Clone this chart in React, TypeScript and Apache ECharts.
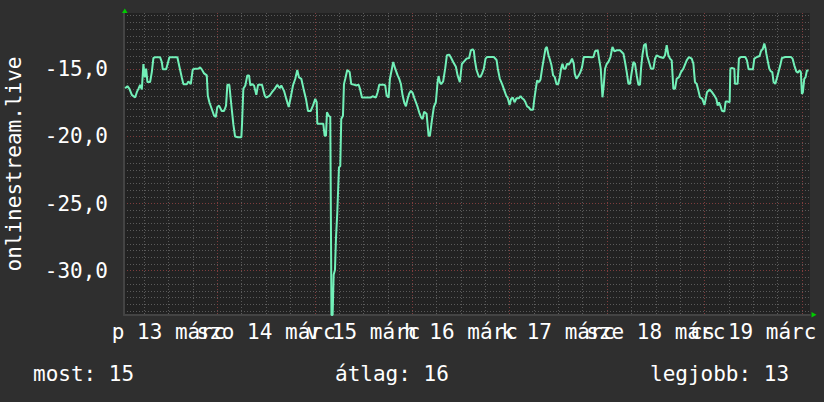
import React, { useEffect, useRef } from "react";
import * as echarts from "echarts";

// hours since 13 márc 00:00, value
const readings: [number, number][] = [
  [1.28,-16.4],[1.85,-16.25],[2.34,-16.45],[2.93,-16.9],[3.74,-17.1],[4.16,-16.7],[4.55,-16.45],[4.97,-16.15],[5.39,-16.5],[5.78,-14.6],[6.13,-15.6],[6.45,-14.95],[6.77,-15.95],[7.43,-15.95],[7.85,-15.2],[8.25,-14.15],[8.66,-14.1],[9.90,-14.1],[10.31,-14.45],[10.56,-15.0],[11.37,-15.0],[11.69,-14.65],[12.18,-14.1],[14.15,-14.1],[14.65,-14.8],[15.24,-15.6],[15.63,-16.1],[16.47,-16.1],[16.86,-15.9],[17.45,-16.1],[17.94,-15.0],[18.51,-14.95],[19.32,-14.95],[19.74,-14.85],[20.16,-15.0],[20.73,-15.3],[21.39,-15.45],[21.64,-16.95],[22.03,-17.45],[22.62,-17.95],[23.19,-18.45],[23.61,-18.55],[24.00,-17.8],[24.42,-17.7],[25.08,-18.1],[25.65,-18.1],[26.14,-17.7],[26.46,-16.15],[26.95,-16.15],[27.37,-17.45],[27.94,-19.1],[28.36,-20.0],
  [29.09,-20.05],[29.91,-20.05],[30.08,-19.05],[30.40,-16.45],[30.89,-16.2],[31.38,-15.45],[31.80,-15.45],[32.12,-16.2],[32.54,-16.1],[33.03,-16.2],[33.60,-16.9],[34.02,-16.15],[35.00,-16.15],[35.67,-16.95],[36.06,-17.1],[36.90,-16.95],[37.46,-16.7],[38.13,-16.45],[38.77,-16.15],[39.36,-16.4],[39.75,-16.2],[40.42,-16.6],[40.98,-17.2],[41.58,-17.8],[42.07,-17.1],[42.63,-16.2],[43.20,-15.7],[43.69,-15.05],[44.11,-15.6],[44.68,-15.7],[45.34,-16.6],[45.83,-17.2],[46.33,-18.1],[46.99,-18.1],[47.56,-17.7],[48.12,-17.2],[48.47,-17.45],[48.62,-19.05],[49.60,-19.05],[50.09,-19.05],[50.44,-19.95],[50.76,-19.95],[51.00,-18.2],[51.42,-18.45],[51.82,-18.55],[52.11,-33.3],[52.40,-33.3],[52.65,-30.3],[52.97,-29.95],[53.22,-27.6],[53.54,-25.7],[53.96,-22.3],[54.28,-22.2],[54.52,-18.7],[54.94,-18.45],[55.19,-16.1],[55.51,-15.7],[56.00,-15.05],[56.59,-15.2],[56.98,-16.1],[57.82,-16.15],
  [58.14,-16.2],[58.81,-16.15],[59.13,-16.45],[59.62,-17.1],[60.60,-17.1],[61.83,-17.1],[62.25,-17.0],[63.06,-17.1],[63.48,-16.7],[63.88,-16.15],[65.11,-16.15],[65.35,-16.2],[65.70,-16.95],[66.19,-17.1],[66.51,-15.7],[67.00,-14.95],[67.32,-14.45],[67.82,-14.95],[68.41,-15.45],[68.80,-15.7],[69.22,-16.1],[69.64,-16.95],[70.03,-17.45],[70.45,-17.75],[70.87,-17.2],[71.26,-16.8],[71.68,-16.6],[72.10,-16.75],[72.49,-17.1],[72.91,-17.45],[73.33,-17.8],[73.72,-18.2],[74.14,-18.55],[74.56,-18.7],[74.95,-18.15],[75.54,-18.3],[76.04,-19.95],[76.36,-19.95],[76.85,-18.8],[77.34,-17.8],[77.83,-17.45],[78.25,-15.95],[78.50,-15.5],[78.82,-15.95],[79.14,-16.1],[79.63,-15.9],[80.12,-14.95],[80.54,-13.95],[81.11,-13.9],[81.60,-14.15],[82.09,-14.45],[82.76,-14.8],[83.18,-15.45],[83.74,-15.95],[84.23,-14.6],[84.80,-14.4],[85.39,-14.2],[86.03,-14.15],[86.45,-13.58],[86.87,-13.5],[87.18,-13.6],[87.43,-14.3],
  [87.85,-15.05],[88.42,-15.55],[88.84,-15.55],[89.23,-15.3],[89.65,-14.95],[90.07,-14.2],[90.46,-14.08],[92.11,-14.08],[92.78,-14.3],[93.09,-14.95],[93.59,-15.7],[94.15,-16.1],[94.74,-16.6],[95.14,-16.95],[95.56,-17.15],[95.98,-17.65],[96.37,-17.2],[96.79,-17.1],[97.21,-17.45],[97.70,-17.15],[98.26,-17.15],[98.68,-17.0],[99.08,-17.15],[99.50,-17.25],[99.91,-17.45],[100.31,-17.75],[100.73,-17.83],[101.14,-18.0],[101.78,-18.0],[102.13,-17.1],[102.45,-16.45],[102.77,-15.83],[103.26,-15.95],[103.61,-15.75],[104.00,-14.95],[104.42,-14.2],[104.84,-13.45],[105.16,-13.33],[105.58,-13.95],[105.90,-14.25],[106.31,-14.7],[106.71,-15.45],[107.13,-15.58],[107.55,-16.1],[107.94,-16.1],[108.36,-15.58],[108.68,-14.95],[109.02,-14.58],[109.34,-14.95],[109.76,-14.95],[110.15,-14.58],[110.57,-14.65],[110.99,-14.45],[111.38,-14.2],[111.80,-14.58],[112.05,-15.33],[112.47,-15.7],[113.03,-15.45],[113.45,-15.2],[113.85,-14.83],[114.27,-14.08],[115.50,-14.08],
  [116.23,-14.1],[116.65,-14.08],[117.05,-13.65],[117.71,-13.58],[118.03,-14.2],[118.45,-14.95],[118.87,-17.08],[119.19,-16.2],[119.51,-14.95],[119.93,-14.58],[120.34,-14.45],[120.84,-14.08],[121.33,-13.33],[121.82,-13.65],[122.39,-13.58],[123.20,-13.58],[124.04,-13.83],[124.43,-14.45],[124.85,-15.2],[125.27,-16.08],[125.66,-16.08],[126.08,-15.2],[126.50,-14.45],[126.89,-14.58],[127.31,-15.45],[127.73,-16.15],[128.12,-16.15],[128.37,-14.95],[128.71,-13.95],[129.11,-13.2],[129.53,-13.08],[129.85,-13.95],[130.34,-14.45],[130.83,-14.95],[131.42,-14.95],[131.82,-14.2],[132.23,-13.95],[133.05,-14.08],[133.88,-14.15],[134.28,-13.95],[134.70,-13.2],[135.11,-13.95],[135.51,-14.2],[135.93,-14.33],[136.34,-16.45],[136.74,-16.45],[137.16,-15.7],[137.72,-15.58],[138.22,-15.2],[138.81,-14.95],[139.62,-14.33],[140.18,-14.08],[140.85,-14.2],[141.27,-14.58],[141.66,-15.95],[142.08,-16.08],[142.50,-16.58],[142.89,-17.08],[143.48,-17.2],[143.98,-17.65],
  [144.22,-17.33],[144.62,-16.7],[145.28,-16.5],[145.85,-16.7],[146.44,-16.95],[146.93,-17.2],[147.25,-17.7],[147.57,-17.45],[147.91,-17.7],[148.31,-18.08],[148.90,-18.15],[149.22,-17.4],[149.71,-17.4],[150.20,-17.45],[150.38,-14.95],[150.77,-14.9],[151.36,-14.95],[151.51,-16.08],[152.17,-16.08],[152.49,-14.2],[152.98,-14.08],[154.07,-14.08],[154.46,-14.33],[154.88,-15.0],[155.94,-15.0],[156.28,-14.2],[156.92,-14.08],[157.59,-14.0],[157.91,-13.65],[158.40,-13.45],[158.74,-13.08],[159.06,-13.45],[159.24,-13.83],[159.56,-14.33],[159.98,-14.95],[160.37,-15.15],[160.71,-15.2],[161.03,-15.95],[161.45,-16.08],[161.85,-15.65],[162.27,-15.15],[162.68,-14.7],[163.08,-14.15],[163.92,-14.08],[165.29,-14.08],[165.71,-14.2],[166.13,-14.7],[166.62,-15.15],[167.02,-15.25],[167.43,-15.08],[167.75,-15.2],[168.00,-16.83],[168.25,-16.7],[168.59,-15.7],[168.91,-15.58],[169.23,-15.08],[169.65,-15.08],
];

const X_MIN = 1;
const X_MAX = 170;
const Y_MIN = -33.3;
const Y_MAX = -10.8;

const sixHourTicks = [6,12,18,24,30,36,42,48,54,60,66,72,78,84,90,96,102,108,114,120,126,132,138,144,150,156,162,168];
const dayTicks = [24,48,72,96,120,144,168];
const dayLabelHours = [12,36,60,84,108,132,156];
const dayLabels = ["p 13 márc","szo 14 márc","v 15 márc","h 16 márc","k 17 márc","sze 18 márc","cs 19 márc"];
// labels split over two axes so that none of them is dropped
const labelHoursA = [12,60,84,108,156];
const labelHoursB = [36,132];

const halfUnitTicks: number[] = [];
for (let v = -33; v <= -11; v += 0.5) halfUnitTicks.push(v);
const majorYTicks = [-30,-25,-20,-15];

const seriesName = "onlinestream.live";
const legendItems = ["most: 15", "átlag: 16", "legjobb: 13"];

const FONT = '"DejaVu Sans Mono", "Liberation Mono", monospace';
const FS = 21;
const PLOT_H = 402 - 13 - 87;

export default function App() {
  const ref = useRef<HTMLDivElement>(null);
  useEffect(() => {
    const chart = echarts.init(ref.current!, null, { renderer: "svg" });
    const minor = { show: true, lineStyle: { color: "#5a5a5a", type: [1, 2], width: 1 } };
    const major = { show: true, lineStyle: { color: "#7e3d3d", type: [1, 2], width: 1 } };
    const dayFmt = (v: number) => dayLabels[dayLabelHours.indexOf(Math.round(v))] ?? "";
    const labelBase = { color: "#ffffff", fontFamily: FONT, fontSize: FS, margin: 6, interval: 0, showMinLabel: true, showMaxLabel: true, hideOverlap: false, formatter: dayFmt };
    chart.setOption({
      animation: false,
      backgroundColor: "#2f2f2f",
      grid: { left: 124, right: 14, top: 13, bottom: 87, show: true, backgroundColor: "#222222", borderWidth: 0 },
      xAxis: [
        {
          type: "value", min: X_MIN, max: X_MAX, position: "bottom",
          axisLine: { show: true, lineStyle: { color: "#444444", width: 2 } },
          axisTick: { show: false, customValues: sixHourTicks },
          splitLine: minor,
          axisLabel: { ...labelBase, show: true, customValues: labelHoursA },
        },
        {
          type: "value", min: X_MIN, max: X_MAX, position: "top", offset: -PLOT_H,
          axisLine: { show: false },
          axisLabel: { ...labelBase, show: true, inside: true, customValues: labelHoursB },
          axisTick: { show: false, customValues: dayTicks },
          splitLine: major,
        },
      ],
      yAxis: [
        {
          type: "value", min: Y_MIN, max: Y_MAX, position: "left",
          axisLine: { show: true, lineStyle: { color: "#444444", width: 2 } },
          axisTick: { show: false, customValues: halfUnitTicks },
          splitLine: minor,
          axisLabel: {
            show: true, customValues: majorYTicks, interval: 0,
            showMinLabel: true, showMaxLabel: true,
            formatter: (v: number) => v.toFixed(1).replace(".", ","),
            color: "#ffffff", fontFamily: FONT, fontSize: FS, margin: 16,
          },
        },
        {
          type: "value", min: Y_MIN, max: Y_MAX, position: "right",
          axisLine: { show: false }, axisLabel: { show: false },
          axisTick: { show: false, customValues: majorYTicks },
          splitLine: major,
        },
      ],
      series: [
        {
          type: "line", name: seriesName, xAxisIndex: 0, yAxisIndex: 0,
          data: readings, showSymbol: false, symbol: "none",
          lineStyle: { color: "#72f0b8", width: 2 },
          z: 5,
        },
      ],
      graphic: [
        {
          type: "text", x: 14, y: 164, rotation: Math.PI / 2,
          style: { text: seriesName, fill: "#ffffff", font: `${FS}px ${FONT}`, textAlign: "center", textVerticalAlign: "middle", align: "center", verticalAlign: "middle" },
        },
        {
          type: "text", x: 33, y: 374,
          style: { text: legendItems[0], fill: "#ffffff", font: `${FS}px ${FONT}`, textVerticalAlign: "middle", verticalAlign: "middle" },
        },
        {
          type: "text", x: 335, y: 374,
          style: { text: legendItems[1], fill: "#ffffff", font: `${FS}px ${FONT}`, textVerticalAlign: "middle", verticalAlign: "middle" },
        },
        {
          type: "text", x: 650, y: 374,
          style: { text: legendItems[2], fill: "#ffffff", font: `${FS}px ${FONT}`, textVerticalAlign: "middle", verticalAlign: "middle" },
        },
        {
          type: "polygon", shape: { points: [[124.8, 8.5], [122, 13], [127.6, 13]] },
          style: { fill: "#00cc00" }, z: 10,
        },
        {
          type: "polygon", shape: { points: [[811.5, 312], [811.5, 317.5], [816.5, 314.8]] },
          style: { fill: "#00cc00" }, z: 10,
        },
      ],
    });
    return () => chart.dispose();
  }, []);
  return <div ref={ref} style={{ position: "absolute", left: 0, top: 0, width: 824, height: 402 }} />;
}
